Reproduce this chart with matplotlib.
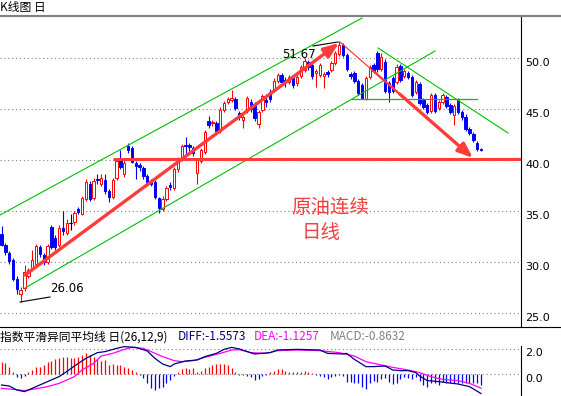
import matplotlib
matplotlib.use("Agg")
import matplotlib.pyplot as plt
import matplotlib.transforms as mtransforms
from matplotlib.lines import Line2D
import numpy as np

plt.rcParams['font.family'] = ['Noto Sans CJK SC', 'DejaVu Sans']

W, H, DPI = 561, 396, 100

# daily candles
opens = [32.8, 31.7, 30.9, 30.2, 28.4, 26.9, 27.5, 28.7, 29.4, 29.8,
         31.5, 30.7, 30.0, 33.5, 32.4, 31.7, 33.4, 32.9, 33.9, 34.0,
         35.2, 34.7, 36.2, 37.7, 36.3, 38.2, 37.7, 38.1, 37.0, 36.4,
         38.3, 40.0, 38.7, 41.4, 41.2, 39.7, 39.5, 39.2, 38.5, 38.0,
         37.9, 36.3, 35.2, 36.2, 37.6, 37.3, 39.1, 40.1, 41.5, 41.5,
         41.2, 38.8, 39.9, 40.8, 43.9, 43.7, 43.7, 42.9, 44.9, 45.7,
         45.9, 46.0, 44.6, 44.0, 44.9, 45.7, 45.5, 43.6, 44.9, 45.9,
         46.7, 46.9, 47.8, 48.4, 47.9, 47.7, 48.1, 47.6, 48.3, 48.9,
         49.6, 49.3, 48.6, 48.4, 48.3, 48.7, 48.9, 49.5, 50.4, 51.3,
         50.3, 48.5, 48.6, 47.8, 47.4, 46.0, 48.2, 49.3, 50.5, 49.0,
         49.6, 47.6, 48.1, 47.7, 49.2, 48.3, 48.6, 48.2, 46.7, 47.5,
         45.9, 45.4, 44.8, 46.4, 45.1, 45.7, 46.2, 45.4, 44.4, 45.9,
         44.7, 44.2, 43.1, 42.6, 41.7, 41.1]
highs = [33.6, 31.9, 31.1, 30.4, 28.7, 27.6, 29.7, 29.4, 31.2, 31.8,
         31.7, 30.9, 31.8, 33.7, 32.7, 33.7, 35.0, 34.2, 34.7, 35.0,
         35.4, 36.5, 38.2, 38.0, 38.3, 38.7, 38.7, 38.7, 37.2, 38.3,
         40.1, 41.0, 40.2, 41.7, 41.4, 39.9, 39.7, 39.4, 38.7, 38.2,
         38.1, 36.4, 36.5, 37.5, 37.9, 39.3, 40.3, 41.6, 42.3, 41.7,
         41.4, 40.2, 41.2, 43.0, 44.3, 44.0, 43.9, 45.2, 45.8, 46.2,
         46.9, 46.2, 44.8, 44.4, 46.3, 46.0, 45.7, 44.9, 46.5, 46.5,
         47.0, 48.1, 48.6, 48.6, 48.2, 48.4, 48.3, 48.5, 49.3, 50.0,
         49.8, 49.5, 49.0, 49.5, 48.7, 48.9, 49.7, 50.7, 51.67, 51.5,
         50.5, 48.7, 48.8, 48.0, 47.6, 48.3, 49.3, 49.5, 50.7, 50.5,
         49.9, 47.8, 48.3, 49.4, 49.4, 49.0, 48.8, 48.4, 47.9, 47.7,
         46.1, 45.6, 46.6, 46.6, 45.9, 46.6, 46.4, 45.6, 45.5, 46.1,
         44.9, 44.5, 43.3, 42.8, 41.9, 41.2]
lows = [31.6, 30.7, 29.8, 28.2, 26.9, 26.06, 27.2, 28.5, 29.1, 29.6,
        30.5, 29.7, 29.8, 31.3, 31.2, 31.5, 32.7, 32.7, 33.2, 33.7,
        34.7, 34.6, 36.0, 36.0, 36.1, 37.7, 37.5, 36.7, 35.9, 36.2,
        38.1, 39.1, 38.4, 40.7, 39.7, 38.2, 39.0, 38.2, 37.5, 37.5,
        36.2, 34.8, 35.0, 36.0, 37.1, 37.1, 38.9, 39.9, 40.5, 40.9,
        40.4, 37.7, 39.7, 40.6, 43.2, 43.4, 42.7, 42.7, 44.7, 45.5,
        45.7, 44.9, 44.0, 43.2, 44.6, 44.7, 43.9, 43.2, 44.7, 45.2,
        45.7, 46.7, 47.6, 47.5, 47.2, 47.5, 47.1, 47.3, 48.1, 48.7,
        48.9, 48.0, 47.2, 48.2, 47.1, 48.2, 48.7, 49.3, 50.2, 50.1,
        48.8, 48.0, 47.6, 46.4, 46.0, 45.9, 48.0, 48.6, 48.7, 48.8,
        46.6, 45.7, 46.6, 47.5, 47.7, 48.1, 48.0, 46.2, 46.5, 45.4,
        45.0, 44.5, 44.6, 44.6, 44.9, 45.5, 45.1, 44.5, 43.5, 44.5,
        44.0, 42.9, 42.5, 41.8, 40.9, 40.9]
closes = [31.7, 31.0, 30.1, 28.4, 27.4, 27.3, 29.0, 29.2, 30.2, 31.6,
          30.8, 30.0, 31.6, 31.5, 31.5, 33.4, 33.1, 33.9, 33.9, 34.8,
          34.9, 36.3, 37.9, 36.2, 38.0, 38.1, 38.3, 37.0, 36.4, 38.1,
          39.9, 39.3, 39.7, 41.0, 39.8, 39.4, 39.3, 38.5, 37.9, 37.7,
          36.4, 35.3, 36.2, 37.3, 37.4, 39.1, 40.1, 41.4, 41.4, 41.3,
          40.7, 40.0, 41.0, 42.8, 43.5, 43.8, 42.9, 44.9, 45.6, 46.0,
          46.1, 45.1, 44.2, 44.2, 46.1, 45.0, 44.1, 44.7, 46.3, 45.7,
          46.0, 47.8, 48.4, 47.7, 47.7, 48.2, 47.4, 48.2, 49.1, 49.7,
          49.1, 48.3, 48.8, 49.3, 48.5, 48.5, 49.5, 50.5, 51.3, 50.3,
          49.0, 48.3, 47.8, 46.6, 46.1, 48.1, 49.1, 48.8, 49.0, 50.1,
          46.8, 46.7, 46.8, 49.1, 47.9, 48.8, 48.2, 46.4, 47.7, 45.6,
          45.2, 44.7, 46.4, 44.8, 45.7, 46.4, 45.3, 44.7, 45.3, 44.7,
          44.2, 43.1, 42.7, 42.0, 41.1, 41.0]

# MACD(26,12,9) panel
macd_hist = [0.99, 0.91, 0.59, 0.13, -0.21, -0.35, -0.16, 0.13, 0.32, 0.53,
             0.53, 0.72, 0.93, 1.07, 1.17, 1.25, 1.33, 1.33, 1.25, 1.25,
             1.39, 1.52, 1.65, 1.52, 1.39, 1.2, 1.07, 1.12, 0.72, 0.8,
             0.72, 0.72, 0.53, 0.45, 0.32, 0.13, -0.08, -0.35, -0.75, -1.15,
             -1.28, -1.15, -1.01, -0.75, -0.48, -0.16, 0.13, 0.37, 0.45, 0.37,
             0.45, 0.19, 0.27, 0.45, 0.59, 0.72, 0.8, 0.8, 0.8, 0.72,
             0.45, 0.19, -0.05, -0.08, -0.16, -0.21, -0.48, -0.43, -0.16, -0.08,
             0.13, 0.27, 0.37, 0.37, 0.24, 0.19, 0.19, 0.19, 0.19, 0.24,
             0.13, 0.05, -0.08, -0.16, -0.27, -0.43, -0.27, -0.16, -0.08, -0.16,
             -0.61, -0.65, -0.75, -0.69, -1.01, -1.23, -0.75, -0.53, -0.61, -0.43,
             -0.35, -0.61, -0.8, -0.69, -0.43, -0.27, -0.35, -0.43, -0.21, -0.53,
             -0.88, -1.01, -0.69, -0.75, -0.88, -0.61, -0.69, -0.75, -0.69, -0.69,
             -0.69, -0.69, -0.69, -0.75, -0.69, -0.86]
diff_idx = [0, 2, 4, 6, 7, 9, 12, 15, 17, 19, 22, 25, 27, 30, 32, 35, 38, 40, 42, 44,
            45, 48, 51, 53, 56, 58, 60, 62, 64, 66, 70, 72, 77, 83, 85, 89, 90, 92, 95, 97,
            100, 102, 104, 106, 108, 109, 111, 114, 116, 119, 122, 125]
diff_vals = [-0.88, -0.96, -1.28, -1.41, -1.28, -1.01, -0.61, -0.21, 0.19, 0.64,
             1.25, 1.71, 1.79, 2.05, 2.19, 2.13, 1.84, 1.25, 0.8, 0.59,
             0.8, 1.04, 1.12, 1.39, 1.65, 1.97, 2.13, 2.0, 1.8, 1.6,
             1.71, 1.92, 1.97, 1.92, 1.65, 1.6, 1.65, 1.17, 0.59, 0.59,
             0.64, 0.32, 0.27, 0.27, 0.11, -0.16, -0.53, -0.61, -0.69, -0.8,
             -1.01, -1.56]
dea_idx = [0, 3, 6, 8, 12, 15, 19, 21, 24, 26, 29, 32, 34, 37, 39, 42, 45, 47, 50, 53,
           57, 60, 62, 65, 69, 72, 77, 83, 88, 92, 95, 99, 102, 106, 109, 112, 115, 119, 122, 125]
dea_vals = [-1.15, -1.23, -1.33, -1.23, -1.01, -0.75, -0.21, 0.32, 0.85, 1.44,
            1.65, 1.97, 2.13, 2.05, 1.79, 1.39, 1.07, 0.99, 1.07, 1.33,
            1.65, 1.92, 1.95, 1.71, 1.65, 1.87, 1.92, 1.87, 1.71, 1.44,
            0.99, 0.72, 0.53, 0.32, 0.11, -0.21, -0.43, -0.53, -0.75, -1.13]

price_ticks = [25.0, 30.0, 35.0, 40.0, 45.0, 50.0]
macd_ticks = [0.0, 2.0]
low_label, high_label = "26.06", "51.67"

RED = '#ff0000'
BLUE = '#0000ff'
ARROW = '#ff3c3c'
GREEN = '#00c000'
GRID = '#808080'

n = len(closes)
dx = (481 - 1.5) / (n - 1)          # pixels per candle
xlim = (-1.5 / dx, (521 - 1.5) / dx)


def px_x(p):
    return (p - 1.5) / dx


def px_price(p):
    return 50 - (p - 58.3) / 10.2


fig = plt.figure(figsize=(W / DPI, H / DPI), dpi=DPI)
ax = fig.add_axes([0, (H - 327) / H, 521 / W, (327 - 16) / H])
ax.set_xlim(*xlim)
ax.set_ylim(px_price(327), px_price(16))

x = np.arange(n)
o, h, l, c = map(np.array, (opens, highs, lows, closes))
cols = np.where(c > o, RED, np.where(c < o, BLUE, 'black'))
faces = np.where(c > o, 'white', cols)

for t in price_ticks:
    ax.axhline(t, color=GRID, lw=0.8, ls=(0, (1, 2.5)), zorder=0)

ax.vlines(x, l, h, colors=cols, lw=0.8, zorder=2)
ax.bar(x, np.abs(c - o), bottom=np.minimum(o, c), width=0.62, color=faces,
       edgecolor=cols, linewidth=0.7, zorder=3)
doji = c == o
ax.hlines(c[doji], x[doji] - 0.4, x[doji] + 0.4, colors='black', lw=0.8, zorder=3)

# channel and trend lines
ax.plot([px_x(0), px_x(362)], [px_price(215), px_price(18)], color=GREEN, lw=0.8, zorder=4)
ax.plot([px_x(25), px_x(435)], [px_price(288), px_price(51)], color=GREEN, lw=0.8, zorder=4)
ax.plot([px_x(352), px_x(477)], [px_price(99), px_price(99)], color=GREEN, lw=0.9, zorder=4)
ax.plot([px_x(378), px_x(508)], [px_price(48), px_price(133)], color=GREEN, lw=0.8, zorder=4)

# support line
ax.plot([px_x(113), xlim[1]], [40.1, 40.1], color=ARROW, lw=2.2, zorder=5,
        solid_capstyle='butt')

# up arrow
ax.annotate('', xy=(px_x(339), px_price(43)), xytext=(px_x(25), px_price(275)),
            arrowprops=dict(arrowstyle='-|>,head_length=0.9,head_width=0.35',
                            color=ARROW, lw=2.4, shrinkA=0, shrinkB=0), zorder=6)

# down arrow, tapered
p0 = np.array([px_x(340), px_price(42)])
p3 = np.array([px_x(473), px_price(158)])
p1 = p0 + 0.25 * (p3 - p0)
p2 = p0 + 0.45 * (p3 - p0)
ax.plot([p0[0], p1[0]], [p0[1], p1[1]], color=ARROW, lw=0.9, zorder=6)
ax.plot([p1[0], p2[0]], [p1[1], p2[1]], color=ARROW, lw=1.7, zorder=6)
ax.annotate('', xy=tuple(p3), xytext=tuple(p2),
            arrowprops=dict(arrowstyle='-|>,head_length=0.9,head_width=0.35',
                            color=ARROW, lw=2.4, shrinkA=0, shrinkB=0), zorder=6)

# high / low labels
ax.plot([px_x(313), px_x(338)], [px_price(46), px_price(42)], color='black', lw=0.8, zorder=7)
ax.text(px_x(282), px_price(55), high_label, fontsize=8.5, family='DejaVu Sans',
        ha='left', va='center', zorder=7)
ax.plot([px_x(20), px_x(50)], [px_price(302), px_price(297)], color='black', lw=0.8, zorder=7)
ax.text(px_x(50), px_price(288), low_label, fontsize=8.5, family='DejaVu Sans',
        ha='left', va='center', zorder=7)

ax.text(px_x(330), px_price(208), '原油连续', color='#f04040', fontsize=14,
        ha='center', va='center')
ax.text(px_x(321), px_price(233), '日线', color='#f04040', fontsize=14,
        ha='center', va='center')

for s in ('top', 'left', 'bottom'):
    ax.spines[s].set_visible(False)
ax.spines['right'].set_linewidth(0.8)
ax.set_xticks([])
ax.set_yticks([])
lab_tr = mtransforms.offset_copy(
    mtransforms.blended_transform_factory(ax.transAxes, ax.transData),
    fig=fig, x=4, y=-4.5, units='dots')
for t in price_ticks:
    ax.text(1, t, f"{t:.1f}", transform=lab_tr, ha='left', va='center',
            fontsize=8, family='DejaVu Sans', clip_on=False)

# MACD panel
ax2 = fig.add_axes([0, 0, 521 / W, (396 - 346) / H])
ax2.set_xlim(*xlim)
ax2.set_ylim(-22 / 12.5, 28 / 12.5)
for t in macd_ticks:
    ax2.axhline(t, color=GRID, lw=0.8, ls=(0, (1, 2.5)), zorder=0)
hv = np.array(macd_hist)
ax2.vlines(x, 0, hv, colors=np.where(hv >= 0, RED, BLUE), lw=0.9, zorder=2)
ax2.plot(dea_idx, dea_vals, color='#ff00ff', lw=0.9, zorder=3)
ax2.plot(diff_idx, diff_vals, color='#000080', lw=0.9, zorder=4)
for s in ('top', 'left', 'bottom'):
    ax2.spines[s].set_visible(False)
ax2.spines['right'].set_linewidth(0.8)
ax2.set_xticks([])
ax2.set_yticks([])
lab_tr2 = mtransforms.offset_copy(
    mtransforms.blended_transform_factory(ax2.transAxes, ax2.transData),
    fig=fig, x=4, y=-4.5, units='dots')
for t in macd_ticks:
    ax2.text(1, t, f"{t:.1f}", transform=lab_tr2, ha='left', va='center',
             fontsize=8, family='DejaVu Sans', clip_on=False)

# frame lines and headers
fig.add_artist(Line2D([0, 1], [1 - 16 / H] * 2, transform=fig.transFigure,
                      color=GRID, lw=1.5))
fig.add_artist(Line2D([0, 1], [1 - 327 / H] * 2, transform=fig.transFigure,
                      color='black', lw=0.8))
fig.text(0.5 / W, 1 - 8 / H, 'K线图 日', fontsize=8.5, ha='left', va='center')
hy = 1 - 337 / H
fig.text(0, hy, '指数平滑异同平均线 日(26,12,9)', fontsize=8.5, ha='left', va='center')
fig.text(178 / W, hy, 'DIFF:-1.5573', color='#000080', fontsize=8.5, ha='left', va='center')
fig.text(254 / W, hy, 'DEA:-1.1257', color='#ff00ff', fontsize=8.5, ha='left', va='center')
fig.text(330 / W, hy, 'MACD:-0.8632', color='#808080', fontsize=8.5, ha='left', va='center')

fig.savefig('out.png', dpi=DPI)
